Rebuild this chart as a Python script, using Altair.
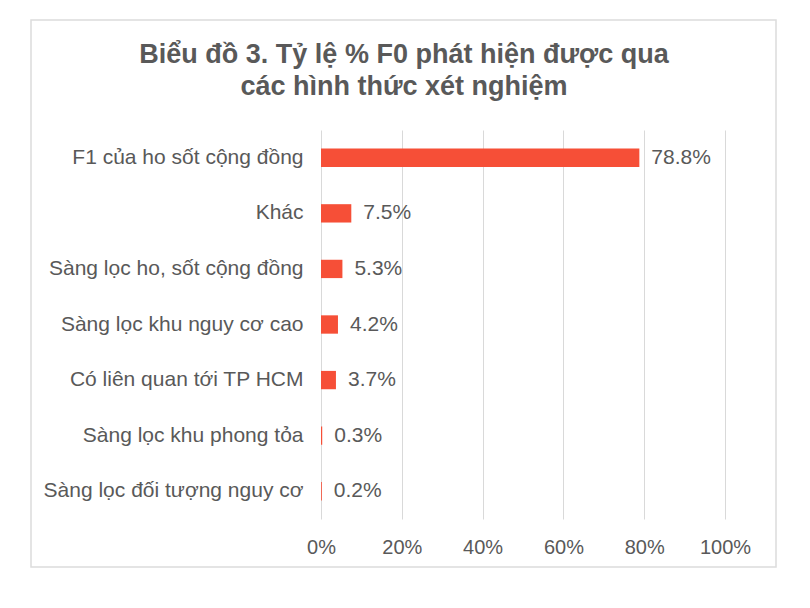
import pandas as pd
import altair as alt

categories = [
    "F1 của ho sốt cộng đồng",
    "Khác",
    "Sàng lọc ho, sốt cộng đồng",
    "Sàng lọc khu nguy cơ cao",
    "Có liên quan tới TP HCM",
    "Sàng lọc khu phong tỏa",
    "Sàng lọc đối tượng nguy cơ",
]
percents = [78.8, 7.5, 5.3, 4.2, 3.7, 0.3, 0.2]
x_ticks = [0, 20, 40, 60, 80, 100]

df = pd.DataFrame({"Hình thức": categories, "Tỷ lệ": percents})
df["label"] = [f"{v:.1f}%" for v in percents]

FONT = "Liberation Sans"
GREY = "#595959"
BAR = "#F64F37"

base = alt.Chart(df)

# outer border of the chart box
frame = base.mark_rect(fillOpacity=0, stroke="#dcdcdc", strokeWidth=1.5).encode(
    x=alt.value(-290), x2=alt.value(455), y=alt.value(-110), y2=alt.value(437)
).transform_filter("datum['Tỷ lệ'] > 70")

bars = base.mark_bar(color=BAR).encode(
    x=alt.X(
        "Tỷ lệ:Q",
        scale=alt.Scale(domain=[0, 100], nice=False),
        axis=alt.Axis(
            values=x_ticks,
            labelExpr="datum.value + '%'",
            title=None,
            domain=False,
            ticks=False,
            grid=True,
            gridColor="#d9d9d9",
            labelPadding=18,
            labelFlush=False,
            labelFontSize=20,
        ),
    ),
    y=alt.Y(
        "Hình thức:N",
        sort=categories,
        scale=alt.Scale(paddingInner=0.67, paddingOuter=0.335),
        axis=alt.Axis(
            title=None, domain=False, ticks=False, labelPadding=18, labelLimit=400
        ),
    ),
)

labels = base.mark_text(
    align="left", baseline="middle", dx=12, font=FONT, fontSize=21, color=GREY
).encode(
    x="Tỷ lệ:Q",
    y=alt.Y("Hình thức:N", sort=categories),
    text="label:N",
)

chart = (
    alt.layer(frame, bars, labels)
    .properties(
        width=404,
        height=389,
        autosize=alt.AutoSizeParams(type="none"),
        padding={"left": 313, "top": 122, "right": 77, "bottom": 81},
        title=alt.TitleParams(
            text=["Biểu đồ 3. Tỷ lệ % F0 phát hiện được qua", "các hình thức xét nghiệm"],
            font=FONT,
            fontSize=27,
            fontWeight="bold",
            color=GREY,
            anchor="middle",
            dx=-119,
            offset=-82,
            lineHeight=32,
        ),
    )
    .configure_view(stroke=None)
    .configure_axis(labelFont=FONT, labelFontSize=21, labelColor=GREY)
)

chart.save("out.html", embed_options={"renderer": "svg", "actions": False})
